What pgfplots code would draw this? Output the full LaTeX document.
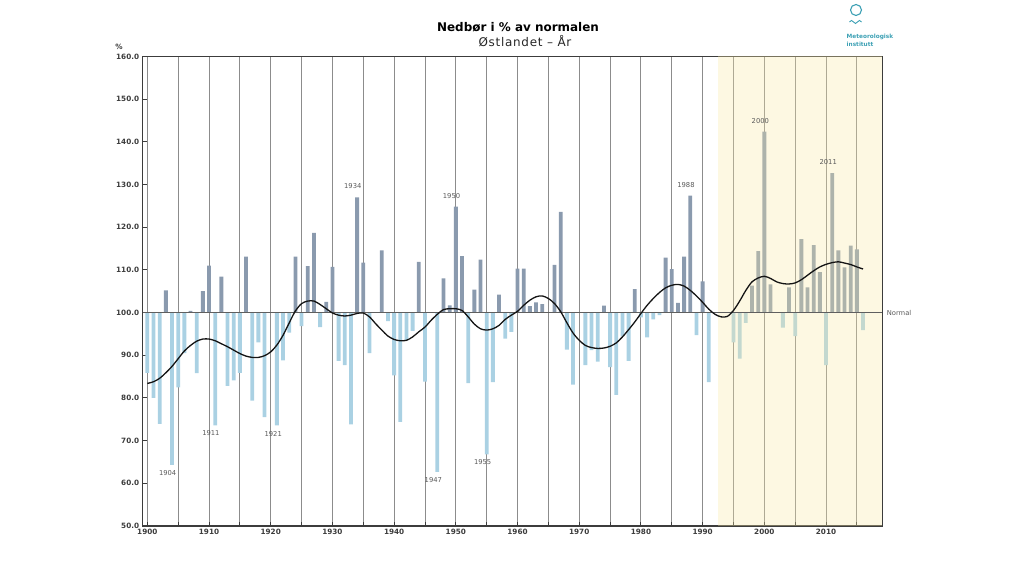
\documentclass[border=0pt]{standalone}
\usepackage{fontspec}
\setmainfont{DejaVu Sans}
\usepackage{pgfplots}
\pgfplotsset{compat=1.18}
\definecolor{posbar}{RGB}{138,154,174}
\definecolor{negbar}{RGB}{170,209,227}
\definecolor{shadec}{RGB}{248,232,165}
\definecolor{gridc}{RGB}{140,140,140}
\definecolor{basec}{RGB}{95,95,95}
\definecolor{axisc}{RGB}{60,60,60}
\definecolor{labc}{RGB}{90,90,90}
\definecolor{logoc}{RGB}{60,160,180}
\begin{document}
\begin{tikzpicture}[x=1bp,y=1bp]
\useasboundingbox (0,0) rectangle (1024,576);
\begin{axis}[
  at={(142.7bp,50bp)}, anchor=south west, scale only axis,
  width=739.6bp, height=469.5bp,
  xmin=1899.25, xmax=2019.12, ymin=-50, ymax=60,
  y filter/.expression={y-100},
  clip=false,
  axis line style={axisc, line width=1.2bp},
  xtick={1900,1910,...,2010},
  minor xtick={1905,1915,...,2015},
  xmajorgrids, xminorgrids,
  major grid style={gridc, line width=0.9bp},
  minor grid style={gridc, line width=0.9bp},
  xtick pos=bottom, ytick pos=left,
  major tick length=4bp, minor tick length=4bp,
  tick style={axisc, line width=0.9bp},
  ytick={-50,-40,...,60},
  /pgf/number format/assume math mode=true,
  yticklabel={\pgfmathparse{\tick+100}\pgfmathprintnumber[fixed,fixed zerofill,precision=1]{\pgfmathresult}},
  xticklabel style={/pgf/number format/1000 sep={}},
  tick label style={font=\fontsize{7.3}{8}\selectfont\bfseries, text=axisc},
  every node near coord/.append style={anchor=center, font=\fontsize{6.8}{7}\selectfont, text=labc},
]
% positive deviations (above normal)
\addplot[ybar, bar width=0.62, fill=posbar, draw=none] coordinates {
(1903,105.2) (1907,100.4) (1909,105.0) (1910,111.0) (1912,108.4) (1916,113.1)
(1924,113.1) (1926,110.9) (1927,118.7) (1929,102.5) (1930,110.7) (1934,127.0)
(1935,111.7) (1938,114.6) (1944,111.9) (1948,108.0) (1949,101.7) (1950,124.8)
(1951,113.2) (1953,105.4) (1954,112.4) (1957,104.2) (1960,110.3) (1961,110.3)
(1962,101.5) (1963,102.4) (1964,102.0) (1966,111.2) (1967,123.6) (1974,101.6)
(1979,105.5) (1984,112.9) (1985,110.2) (1986,102.3) (1987,113.1) (1988,127.4)
(1990,107.3) (1998,106.3) (1999,114.4) (2000,142.4) (2001,106.6) (2004,105.9)
(2006,117.2) (2007,105.9) (2008,115.8) (2009,109.5) (2011,132.7) (2012,114.6)
(2013,110.6) (2014,115.7) (2015,114.8)
};
% negative deviations (below normal)
\addplot[ybar, bar width=0.62, fill=negbar, draw=none] coordinates {
(1900,85.9) (1901,80.0) (1902,73.9) (1904,64.3) (1905,82.5) (1906,90.5)
(1908,85.8) (1911,73.6) (1913,82.8) (1914,84.1) (1915,85.9) (1917,79.4)
(1918,93.0) (1919,75.5) (1921,73.6) (1922,88.8) (1923,95.3) (1925,96.8)
(1928,96.6) (1931,88.7) (1932,87.7) (1933,73.8) (1936,90.5) (1939,98.0)
(1940,85.3) (1941,74.4) (1942,93.5) (1943,95.7) (1945,83.8) (1947,62.7)
(1952,83.5) (1955,66.8) (1956,83.7) (1958,93.9) (1959,95.5) (1968,91.3)
(1969,83.1) (1971,87.7) (1972,91.2) (1973,88.5) (1975,87.2) (1976,80.7)
(1977,94.4) (1978,88.7) (1980,98.9) (1981,94.2) (1982,98.4) (1983,99.4)
(1989,94.7) (1991,83.7) (1995,93.0) (1996,89.2) (1997,97.6) (2003,96.5)
(2005,94.5) (2010,87.7) (2016,95.9)
};
% shaded recent period
\fill[shadec, fill opacity=0.32] ({axis cs:1992.5,0} |- {rel axis cs:0,0}) rectangle ({rel axis cs:1,1});
% normal line
\addplot[basec, line width=1.8bp, mark=none] coordinates {(1899.25,100) (2019.12,100)};
% smoothed curve
\addplot[black!92, line width=1.3bp, smooth, mark=none] coordinates {
(1900,83.4) (1901,83.8) (1902,84.6) (1903,85.9) (1904,87.4) (1905,89.2) (1906,91.0)
(1907,92.3) (1908,93.3) (1909,93.8) (1910,93.8) (1911,93.4) (1912,92.7) (1913,92.0)
(1914,91.2) (1915,90.4) (1916,89.8) (1917,89.5) (1918,89.5) (1919,89.9) (1920,90.8)
(1921,92.4) (1922,94.7) (1923,97.6) (1924,100.4) (1925,102.1) (1926,102.7) (1927,102.7)
(1928,101.9) (1929,100.9) (1930,99.9) (1931,99.4) (1932,99.2) (1933,99.4) (1934,99.8)
(1935,99.9) (1936,99.0) (1937,97.4) (1938,95.9) (1939,94.5) (1940,93.7) (1941,93.4)
(1942,93.5) (1943,94.3) (1944,95.5) (1945,96.6) (1946,98.2) (1947,99.6) (1948,100.7)
(1949,100.9) (1950,100.9) (1951,100.5) (1952,99.0) (1953,97.3) (1954,96.2) (1955,95.9)
(1956,96.2) (1957,97.0) (1958,98.4) (1959,99.4) (1960,100.3) (1961,101.7) (1962,102.9)
(1963,103.7) (1964,103.9) (1965,103.3) (1966,102.1) (1967,100.2) (1968,97.6) (1969,95.2)
(1970,93.5) (1971,92.3) (1972,91.8) (1973,91.6) (1974,91.7) (1975,92.1) (1976,92.9)
(1977,94.3) (1978,96.0) (1979,97.8) (1980,99.8) (1981,101.7) (1982,103.3) (1983,104.7)
(1984,105.8) (1985,106.4) (1986,106.6) (1987,106.2) (1988,105.2) (1989,103.9) (1990,102.4)
(1991,100.8) (1992,99.6) (1993,99.0) (1994,99.1) (1995,100.5) (1996,102.7) (1997,105.2)
(1998,107.2) (1999,108.1) (2000,108.5) (2001,108.0) (2002,107.2) (2003,106.8) (2004,106.7)
(2005,106.95) (2006,107.7) (2007,108.75) (2008,109.8) (2009,110.7) (2010,111.3) (2011,111.7)
(2012,111.9) (2013,111.6) (2014,111.25) (2015,110.7) (2016,110.2)
};
% year annotations
\addplot[only marks, mark=none, nodes near coords, point meta=explicit symbolic] coordinates {
(1903.3,62.5) [1904] (1910.3,71.85) [1911] (1920.4,71.55) [1921] (1933.3,129.6) [1934]
(1946.35,60.8) [1947] (1949.3,127.3) [1950] (1954.35,65.1) [1955] (1987.3,129.9) [1988]
(1999.35,144.85) [2000] (2010.35,135.2) [2011]
};
\addplot[only marks, mark=none, nodes near coords, point meta=explicit symbolic,
  every node near coord/.append style={anchor=west, xshift=1bp}] coordinates {(2019.12,100) [Normal]};
\end{axis}
% titles
\node[font=\fontsize{12}{14}\selectfont\bfseries] at (518,548.5) {Nedbør i \% av normalen};
\node[font=\fontsize{12}{13}\selectfont\addfontfeatures{LetterSpace=6}, text=black!85] at (525,535) {Østlandet – År};
\node[font=\fontsize{7.3}{8}\selectfont\bfseries, text=axisc] at (119,529) {\%};
% logo
\draw[logoc, line width=1.1bp] (856,566) circle (5.5);
\draw[logoc, line width=0.9bp] (849.5,554) .. controls (851,556) and (852,556) .. (853.5,554) .. controls (855,552) and (856,552) .. (857.5,554) .. controls (859,556) and (860,556) .. (861.5,554);
\node[anchor=west, inner sep=0, font=\fontsize{5.8}{6}\selectfont\bfseries, text=logoc] at (846.5,539) {Meteorologisk};
\node[anchor=west, inner sep=0, font=\fontsize{5.8}{6}\selectfont\bfseries, text=logoc] at (846.5,531.5) {institutt};
\end{tikzpicture}
\end{document}
